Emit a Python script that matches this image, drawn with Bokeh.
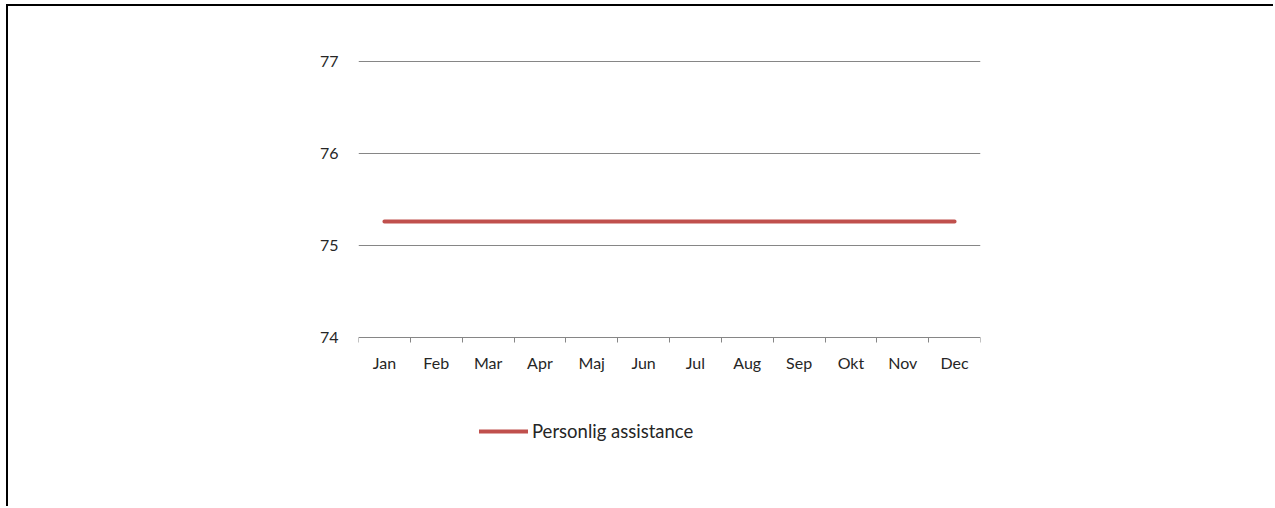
from bokeh.plotting import figure
from bokeh.models import Range1d, FixedTicker, Legend, LegendItem, ColumnDataSource
from bokeh.embed import file_html
from bokeh.resources import INLINE

months = ["Jan", "Feb", "Mar", "Apr", "Maj", "Jun", "Jul", "Aug", "Sep", "Okt", "Nov", "Dec"]
values = [75.26] * 12
series_name = "Personlig assistance"
y_ticks = [74, 75, 76, 77]

FONT = "Lato"
TXT = "#262626"

x_pos = [i + 0.5 for i in range(len(months))]
src = ColumnDataSource(data=dict(x=x_pos, y=values, month=months))

p = figure(width=1267, height=502, output_backend="svg", toolbar_location=None,
           x_range=Range1d(0, len(months)), y_range=Range1d(72.663, 77.011),
           min_border_left=350, min_border_right=295, min_border_top=54, min_border_bottom=48,
           outline_line_color=None, background_fill_color="white", border_fill_color="white",
           styles={"border-top": "2px solid black", "border-left": "2px solid black",
                   "margin-left": "6px", "margin-top": "4px"})

r = p.line("x", "y", source=src, line_color="#C0504D", line_width=4, line_cap="round")

# y axis
p.yaxis.ticker = FixedTicker(ticks=y_ticks)
p.yaxis.axis_line_color = None
p.yaxis.major_tick_line_color = None
p.yaxis.minor_tick_line_color = None
p.yaxis.major_tick_out = 0
p.yaxis.major_label_standoff = 20
p.yaxis.major_label_text_font = FONT
p.yaxis.major_label_text_font_size = "16px"
p.yaxis.major_label_text_color = TXT

# x axis, drawn at y = 74 inside the frame
p.xaxis.fixed_location = y_ticks[0]
p.xaxis.ticker = FixedTicker(ticks=x_pos, minor_ticks=list(range(len(months) + 1)))
p.xaxis.major_label_overrides = {x: m for x, m in zip(x_pos, months)}
p.xaxis.axis_line_color = "#868686"
p.xaxis.major_tick_line_color = None
p.xaxis.major_tick_out = 0
p.xaxis.major_tick_in = 0
p.xaxis.minor_tick_line_color = "#868686"
p.xaxis.minor_tick_out = 5
p.xaxis.minor_tick_in = 0
p.xaxis.major_label_standoff = 10
p.xaxis.major_label_text_font = FONT
p.xaxis.major_label_text_font_size = "16px"
p.xaxis.major_label_text_color = TXT

# grid
p.xgrid.grid_line_color = None
p.ygrid.ticker = FixedTicker(ticks=y_ticks[1:])
p.ygrid.grid_line_color = "#868686"
p.ygrid.grid_line_width = 1

legend = Legend(items=[LegendItem(label=series_name, renderers=[r])],
                location=(121, 18), orientation="horizontal",
                border_line_color=None, background_fill_alpha=0,
                padding=0, margin=0, spacing=0,
                glyph_width=49, glyph_height=20, label_standoff=4,
                label_text_font=FONT, label_text_font_size="18.5px",
                label_text_color=TXT)
p.add_layout(legend, "center")

open("out.html", "w").write(file_html(p, INLINE))
